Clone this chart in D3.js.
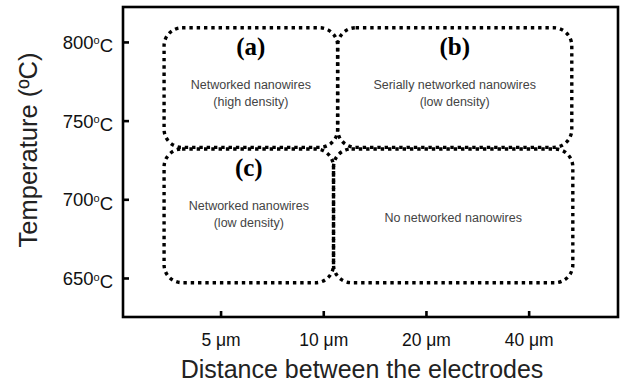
<!DOCTYPE html>
<html>
<head>
<meta charset="utf-8">
<script src="https://cdn.jsdelivr.net/npm/d3@7"></script>
<style>
  body { margin: 0; background: #fff; }
  svg text { font-family: "Liberation Sans", Arial, sans-serif; }
</style>
</head>
<body>
<svg id="chart" width="623" height="385"></svg>
<script>
// categories along the x axis (electrode gap)
var distances = ["5 \u03bcm", "10 \u03bcm", "20 \u03bcm", "40 \u03bcm"];
// temperature ticks
var tempTicks = [650, 700, 750, 800];

// growth regimes: extents in category index (x) and temperature (y)
var regionNames = ["(a)", "(b)", "(c)", ""];
var regionX0 = [-0.55, 1.14, -0.55, 1.10];
var regionX1 = [1.14, 3.42, 1.10, 3.43];
var regionT0 = [733, 733, 647, 647];
var regionT1 = [809, 809, 732, 732];
var regionLine1 = ["Networked nanowires", "Serially networked nanowires", "Networked nanowires", "No networked nanowires"];
var regionLine2 = ["(high density)", "(low density)", "(low density)", ""];

var svg = d3.select("#chart");
var margin = {left: 123, top: 7, right: 5, bottom: 68};
var width = 623 - margin.left - margin.right,
    height = 385 - margin.top - margin.bottom;

var x = d3.scaleLinear().domain([-0.95, 3.87]).range([0, width]);
var y = d3.scaleLinear().domain([625.2, 822.2]).range([height, 0]);

var g = svg.append("g")
    .attr("transform", "translate(" + margin.left + "," + margin.top + ")");

// regions
var regions = g.selectAll("g.region")
    .data(regionNames.map(function(d, i) { return i; }))
    .enter().append("g")
    .attr("class", "region");

regions.append("rect")
    .attr("x", function(i) { return x(regionX0[i]); })
    .attr("y", function(i) { return y(regionT1[i]); })
    .attr("width", function(i) { return x(regionX1[i]) - x(regionX0[i]); })
    .attr("height", function(i) { return y(regionT0[i]) - y(regionT1[i]); })
    .attr("rx", 18)
    .attr("ry", 18)
    .style("fill", "none")
    .style("stroke", "#000")
    .style("stroke-width", 3.4)
    .style("stroke-dasharray", "3.4 3.9");

function cx(i) { return (x(regionX0[i]) + x(regionX1[i])) / 2; }

regions.append("text")
    .attr("x", cx)
    .attr("y", function(i) { return y(regionT1[i]) + 27; })
    .attr("text-anchor", "middle")
    .style("font-family", "'Liberation Serif', 'Times New Roman', serif")
    .style("font-weight", "bold")
    .style("font-size", "25px")
    .text(function(i) { return regionNames[i]; });

regions.append("text")
    .attr("x", cx)
    .attr("y", function(i) { return regionLine2[i] ? y(regionT1[i]) + 61 : y(regionT1[i]) + 73; })
    .attr("text-anchor", "middle")
    .style("font-size", "12.5px")
    .style("fill", "#444")
    .text(function(i) { return regionLine1[i]; });

regions.append("text")
    .attr("x", cx)
    .attr("y", function(i) { return y(regionT1[i]) + 78; })
    .attr("text-anchor", "middle")
    .style("font-size", "12.5px")
    .style("fill", "#444")
    .text(function(i) { return regionLine2[i]; });

// frame
g.append("rect")
    .attr("width", width)
    .attr("height", height)
    .style("fill", "none")
    .style("stroke", "#000")
    .style("stroke-width", 2.6);

// y axis
var yAxis = g.append("g")
    .call(d3.axisLeft(y).tickValues(tempTicks).tickSize(-6).tickFormat(""));
yAxis.select(".domain").remove();
yAxis.selectAll(".tick line").style("stroke-width", 2.6);
yAxis.selectAll(".tick text").remove();
yAxis.selectAll(".tick").append("text")
    .attr("x", -10)
    .attr("dy", "0.36em")
    .attr("text-anchor", "end")
    .style("font-size", "18.5px")
    .style("fill", "#111")
    .each(function(d) {
        var t = d3.select(this);
        t.append("tspan").text(d);
        t.append("tspan").attr("dy", "-0.42em").style("font-size", "11px").text("o");
        t.append("tspan").attr("dy", "0.42em").text("C");
    });

// x axis
var xAxis = g.append("g")
    .attr("transform", "translate(0," + height + ")")
    .call(d3.axisBottom(x).tickValues(d3.range(distances.length))
        .tickSize(-6).tickPadding(17)
        .tickFormat(function(d) { return distances[d]; }));
xAxis.select(".domain").remove();
xAxis.selectAll(".tick line").style("stroke-width", 2.6);
xAxis.selectAll(".tick text")
    .style("font-size", "17.5px")
    .style("font-family", "'Liberation Sans', Arial, sans-serif")
    .style("fill", "#111");

// axis titles
svg.append("text")
    .attr("x", 362)
    .attr("y", 378)
    .attr("text-anchor", "middle")
    .style("font-size", "25px")
    .style("fill", "#222")
    .text("Distance between the electrodes");

svg.append("text")
    .attr("transform", "translate(37,150) rotate(-90)")
    .attr("text-anchor", "middle")
    .style("font-size", "25.5px")
    .style("fill", "#222")
    .text("Temperature (\u00baC)");
</script>
</body>
</html>
